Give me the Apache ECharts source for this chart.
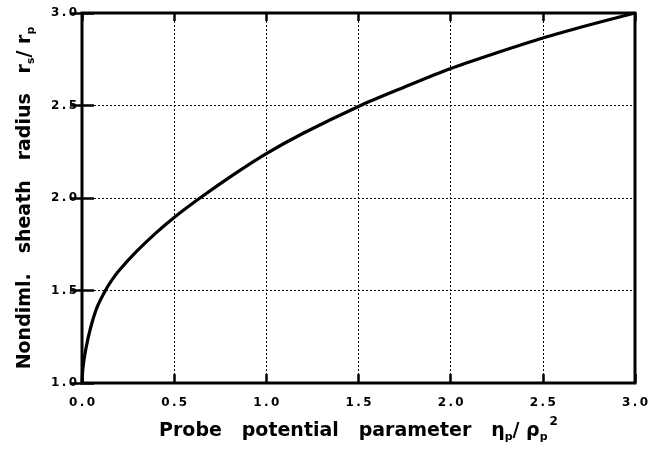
<!DOCTYPE html>
<html>
<head>
<meta charset="utf-8">
<script src="https://cdn.jsdelivr.net/npm/echarts@6/dist/echarts.min.js"></script>
<style>html,body{margin:0;padding:0;background:#fff}#c{width:667px;height:451px}</style>
</head>
<body>
<div id="c"></div>
<script>
// Probe potential parameter (x) and nondimensional sheath radius (y)
const xValues = [0, 0.005, 0.02, 0.047, 0.082, 0.127, 0.16, 0.2, 0.3, 0.4, 0.5, 0.64, 0.82, 1.0, 1.2, 1.5, 1.75, 2.0, 2.25, 2.5, 2.75, 3.0];
const yValues = [1.0, 1.08, 1.18, 1.30, 1.41, 1.5, 1.553, 1.607, 1.715, 1.81, 1.895, 2.0, 2.125, 2.24, 2.35, 2.495, 2.6, 2.7, 2.785, 2.865, 2.935, 3.0];
const xTicks = [0, 0.5, 1.0, 1.5, 2.0, 2.5, 3.0];
const yTicks = [1.0, 1.5, 2.0, 2.5, 3.0];

const font = 'DejaVu Sans, Liberation Sans, sans-serif';
const spaced = v => v.toFixed(1).split('').join('\u2009');
const chart = echarts.init(document.getElementById('c'));
const tickStyle = { color: '#000', width: 2.5 };
const gridLine = { show: true, lineStyle: { color: '#000', type: [2, 2], width: 1 } };
const tickLabel = { color: '#000', fontFamily: font, fontWeight: 'bold', fontSize: 12 };
chart.setOption({
  animation: false,
  backgroundColor: '#fff',
  grid: { left: 82, right: 32, top: 13, bottom: 62, show: true, borderColor: '#000', borderWidth: 3, backgroundColor: 'transparent' },
  xAxis: [
    {
      type: 'value', min: 0, max: 3, interval: 0.5, position: 'bottom',
      axisLine: { show: false },
      axisTick: { show: true, inside: true, length: 9, lineStyle: tickStyle },
      splitLine: gridLine,
      axisLabel: Object.assign({ margin: 14, formatter: spaced }, tickLabel),
      name: '{b|Probe   potential   parameter   η}{sub|p}{b|/ ρ}{sub|p}{sup|2}',
      nameLocation: 'middle', nameGap: 33,
      nameTextStyle: {
        rich: {
          b: { fontFamily: font, fontWeight: 'bold', fontSize: 19, color: '#000', lineHeight: 30, verticalAlign: 'middle' },
          sub: { fontFamily: font, fontWeight: 'bold', fontSize: 11, color: '#000', lineHeight: 30, verticalAlign: 'bottom', padding: [0, 0, 3, 0] },
          sup: { fontFamily: font, fontWeight: 'bold', fontSize: 12, color: '#000', lineHeight: 30, verticalAlign: 'top', padding: [0, 0, 0, 2] }
        }
      }
    },
    {
      type: 'value', min: 0, max: 3, interval: 0.5, position: 'top',
      axisLine: { show: false },
      axisTick: { show: true, inside: true, length: 8, lineStyle: tickStyle },
      splitLine: { show: false },
      axisLabel: { show: false }
    }
  ],
  yAxis: [
    {
      type: 'value', min: 1, max: 3, interval: 0.5, position: 'left',
      axisLine: { show: false },
      axisTick: { show: true, inside: true, length: 12, lineStyle: tickStyle },
      splitLine: gridLine,
      axisLabel: Object.assign({ margin: 5, formatter: spaced }, tickLabel),
      name: '{b|Nondiml.   sheath   radius   r}{sub|s}{b|/ r}{sub|p}',
      nameLocation: 'middle', nameGap: 42, nameRotate: 90,
      nameTextStyle: {
        rich: {
          b: { fontFamily: font, fontWeight: 'bold', fontSize: 19, color: '#000', lineHeight: 30, verticalAlign: 'middle' },
          sub: { fontFamily: font, fontWeight: 'bold', fontSize: 11, color: '#000', lineHeight: 30, verticalAlign: 'bottom', padding: [0, 0, 3, 0] }
        }
      }
    },
    {
      type: 'value', min: 1, max: 3, interval: 0.5, position: 'right',
      axisLine: { show: false },
      axisTick: { show: true, inside: true, length: 12, lineStyle: tickStyle },
      splitLine: { show: false },
      axisLabel: { show: false }
    }
  ],
  series: [{
    type: 'line',
    data: xValues.map((x, i) => [x, yValues[i]]),
    smooth: 0.3,
    showSymbol: false,
    lineStyle: { color: '#000', width: 3.2 },
    clip: true
  }]
});
</script>
</body>
</html>
